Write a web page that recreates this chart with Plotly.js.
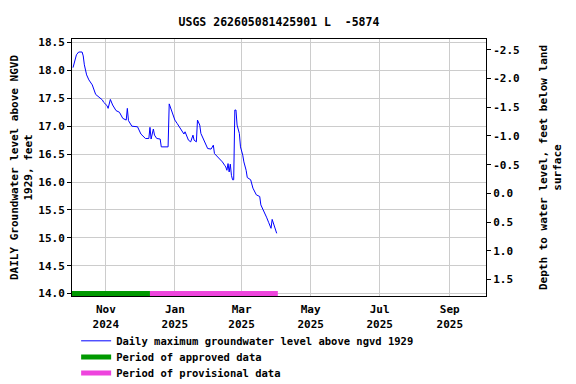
<!DOCTYPE html>
<html>
<head>
<meta charset="utf-8">
<script src="https://cdn.plot.ly/plotly-3.0.1.min.js"></script>
<style>html,body{margin:0;padding:0;background:#fff;}#chart{width:576px;height:384px;}</style>
</head>
<body>
<div id="chart"></div>
<script>
// Daily maximum groundwater level above NGVD 1929 (feet)
const levelDates = [
  '2024-10-03','2024-10-05','2024-10-06','2024-10-08','2024-10-11','2024-10-12','2024-10-13','2024-10-15',
  '2024-10-17','2024-10-20','2024-10-23','2024-10-26','2024-10-29','2024-10-30','2024-11-02','2024-11-03',
  '2024-11-05','2024-11-07','2024-11-10','2024-11-13','2024-11-16','2024-11-19','2024-11-20','2024-11-21',
  '2024-11-24','2024-11-29','2024-12-02','2024-12-06','2024-12-09','2024-12-10','2024-12-11','2024-12-13',
  '2024-12-14','2024-12-16','2024-12-19','2024-12-20','2024-12-25','2024-12-26','2024-12-27','2024-12-29',
  '2024-12-30','2025-01-01','2025-01-03','2025-01-05','2025-01-08','2025-01-09','2025-01-10','2025-01-12',
  '2025-01-13','2025-01-15','2025-01-17','2025-01-18','2025-01-20','2025-01-21','2025-01-23','2025-01-24',
  '2025-01-26','2025-01-27','2025-01-29','2025-01-30','2025-02-02','2025-02-04','2025-02-05','2025-02-08',
  '2025-02-11','2025-02-12','2025-02-14','2025-02-15','2025-02-16','2025-02-17','2025-02-18','2025-02-19',
  '2025-02-20','2025-02-21','2025-02-22','2025-02-23','2025-02-24','2025-02-25','2025-02-27','2025-02-28',
  '2025-03-02','2025-03-03','2025-03-05','2025-03-06','2025-03-09','2025-03-11','2025-03-14','2025-03-17',
  '2025-03-18','2025-03-21','2025-03-23','2025-03-25','2025-03-27','2025-03-28','2025-03-30','2025-04-01'
];
const levelValues = [
  18.05,18.19,18.28,18.33,18.33,18.26,18.10,17.92,
  17.83,17.74,17.57,17.52,17.47,17.43,17.37,17.32,
  17.48,17.38,17.28,17.25,17.14,17.11,17.32,17.10,
  17.00,16.99,16.86,16.78,16.78,16.98,16.77,16.95,
  16.84,16.78,16.77,16.63,16.63,16.63,17.40,17.29,
  17.20,17.11,17.05,16.98,16.90,16.86,16.90,16.81,
  16.75,16.72,16.84,16.75,16.72,17.11,17.02,16.87,
  16.78,16.72,16.63,16.60,16.59,16.66,16.51,16.45,
  16.39,16.36,16.30,16.27,16.21,16.33,16.18,16.32,
  16.12,16.04,16.04,17.29,17.29,17.02,16.87,16.63,
  16.48,16.36,16.21,16.08,16.04,15.89,15.77,15.74,
  15.59,15.47,15.37,15.27,15.17,15.33,15.20,15.08
];
// Data-status periods
const approvedDates = ['2024-10-02','2024-12-10'];
const approvedLevel = [14.0, 14.0];
const provisionalDates = ['2024-12-10','2025-04-02'];
const provisionalLevel = [14.0, 14.0];

// Tick labels
const xTickVals = ['2024-11-01','2025-01-01','2025-03-01','2025-05-01','2025-07-01','2025-09-01'];
const xTickText = ['Nov<br>2024','Jan<br>2025','Mar<br>2025','May<br>2025','Jul<br>2025','Sep<br>2025'];
const depthTickVals = [-2.5,-2.0,-1.5,-1.0,-0.5,0.0,0.5,1.0,1.5];
const depthTickText = ['-2.5','-2.0','-1.5','-1.0','-0.5','0.0','0.5','1.0','1.5'];

const FONT = {family: 'DejaVu Sans Mono, monospace', size: 11, color: '#000', weight: 'bold'};
const LFONT = {family: 'DejaVu Sans Mono, monospace', size: 10.5, color: '#000', weight: 'bold'};

const traces = [
  {x: levelDates, y: levelValues, type: 'scatter', mode: 'lines', legend: 'legend',
   line: {color: '#0000ff', width: 1}, name: 'Daily maximum groundwater level above ngvd 1929'},
  {x: approvedDates, y: approvedLevel, type: 'scatter', mode: 'lines', legend: 'legend2',
   line: {color: '#009900', width: 5}, name: 'Period of approved data'},
  {x: provisionalDates, y: provisionalLevel, type: 'scatter', mode: 'lines', legend: 'legend3',
   line: {color: '#ee44dd', width: 5}, name: 'Period of provisional data'},
  {x: [], y: [], type: 'scatter', mode: 'lines', yaxis: 'y2', showlegend: false, hoverinfo: 'skip'}
];

function leg(y) {
  return {x: 0.01, y: y, xanchor: 'left', yanchor: 'top', orientation: 'v',
          font: LFONT, bgcolor: 'rgba(0,0,0,0)'};
}

const layout = {
  width: 576, height: 384,
  margin: {l: 71.5, r: 90, t: 39.3, b: 88.3, autoexpand: false},
  paper_bgcolor: '#fff', plot_bgcolor: '#fff',
  font: FONT,
  showlegend: true,
  title: {text: 'USGS 262605081425901 L  -5874', font: {family: FONT.family, size: 11.5, weight: 'bold', color: '#000'},
          xref: 'paper', x: 0.5, xanchor: 'center', yref: 'container', y: 0.944, yanchor: 'middle'},
  xaxis: {
    type: 'date', range: ['2024-10-02 02:00', '2025-10-03'],
    tickvals: xTickVals, ticktext: xTickText, tickangle: 0,
    showgrid: true, gridcolor: '#cccccc', gridwidth: 1,
    showline: true, linecolor: '#000', linewidth: 1, mirror: true,
    ticks: 'outside', ticklen: 3, tickcolor: 'rgba(0,0,0,0)', zeroline: false, tickfont: FONT
  },
  yaxis: {
    range: [13.957, 18.563], tickvals: [14,14.5,15,15.5,16,16.5,17,17.5,18,18.5], tickformat: '.1f',
    showgrid: true, gridcolor: '#cccccc', gridwidth: 1,
    showline: true, linecolor: '#000', linewidth: 1, mirror: true,
    ticks: 'outside', ticklen: 4, tickcolor: '#000', zeroline: false, tickfont: FONT,
    title: {text: 'DAILY Groundwater level above NGVD<br>1929, feet', font: FONT, standoff: 3}
  },
  yaxis2: {
    overlaying: 'y', side: 'right', range: [1.786, -2.687],
    tickvals: depthTickVals, ticktext: depthTickText,
    showgrid: false, zeroline: false, showline: false,
    ticks: 'outside', ticklen: 4, tickcolor: '#000', tickfont: FONT,
    title: {text: 'Depth to water level, feet below land<br>surface', font: FONT, standoff: 20}
  },
  legend: leg(-0.118),
  legend2: leg(-0.181),
  legend3: leg(-0.243)
};

Plotly.newPlot('chart', traces, layout, {staticPlot: true, displayModeBar: false});
</script>
</body>
</html>
